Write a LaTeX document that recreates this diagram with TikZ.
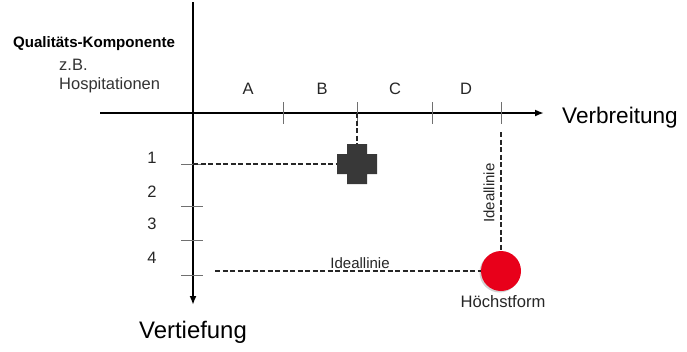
\documentclass[tikz,border=0pt]{standalone}
\usepackage{fontspec}
\setmainfont{Liberation Sans}
\usetikzlibrary{arrows.meta}
\definecolor{markgray}{HTML}{383838}
\definecolor{pointred}{HTML}{E8001A}
\definecolor{tickgray}{HTML}{707070}
\tikzset{
  axis/.style={line width=2.6pt,-{Latex[length=9pt,width=7pt]}},
  tickmark/.style={line width=1pt,tickgray},
  guide/.style={line width=2.2pt,dash pattern=on 5pt off 2.5pt,black!85},
  lbl/.style={inner sep=0pt,font=\fontsize{16.5}{18}\selectfont,text=black!85},
}
\begin{document}
\begin{tikzpicture}[x=1pt,y=-1pt]
\useasboundingbox (0,0) rectangle (687,351);

% axes
\coordinate (ytop) at (193,2);
\coordinate (ybot) at (193,305);
\coordinate (xleft) at (100,113);
\coordinate (xright) at (544,113);
\draw[axis] (ytop) -- (ybot);
\draw[axis] (xleft) -- (xright);

% ticks on the horizontal axis
\foreach \x/\n in {283/ta,357/tb,432/tc,501/td}{
  \coordinate (\n) at (\x,113);
  \draw[tickmark] (\x,102) -- (\x,124);
}
% ticks on the vertical axis
\foreach \y/\n in {164/t1,206/t2,240/t3,275/t4}{
  \coordinate (\n) at (193,\y);
  \draw[tickmark] (181,\y) -- (203,\y);
}

% column labels
\node[lbl] (la) at (248,89) {A};
\node[lbl] (lb) at (322,89) {B};
\node[lbl] (lc) at (395,89) {C};
\node[lbl] (ld) at (466,89) {D};
% row labels
\node[lbl] (l1) at (152,158) {1};
\node[lbl] (l2) at (152,192) {2};
\node[lbl] (l3) at (152,224) {3};
\node[lbl] (l4) at (152,258) {4};

% axis titles
\node[inner sep=0pt,anchor=west,font=\fontsize{22.6}{25}\selectfont] (verb) at (562,118) {Verbreitung};
\node[inner sep=0pt,font=\fontsize{23.9}{26}\selectfont] (vert) at (193,332) {Vertiefung};

% quality component caption
\node[inner sep=0pt,font=\bfseries\fontsize{15.1}{17}\selectfont] (qk) at (94,44) {Qualitäts-Komponente};
\node[lbl,anchor=west,text=black!80] (zb) at (59,65) {z.B.};
\node[lbl,anchor=west,text=black!80] (hosp) at (59,85) {Hospitationen};

% current position marker (cross)
\node[inner sep=0pt,minimum size=40pt] (cross) at (357,164) {};
\fill[markgray] (347,144) -- (367,144) -- (367,154) -- (377,154) -- (377,174) -- (367,174)
  -- (367,184) -- (347,184) -- (347,174) -- (337,174) -- (337,154) -- (347,154) -- cycle;
\draw[guide] (t1) -- (cross.west);
\draw[guide] (tb) -- (cross.north);

% target point
\fill[black!35,opacity=0.5] (499.5,272.5) circle (20);
\node[circle,fill=pointred,inner sep=0pt,minimum size=40pt] (best) at (501,271) {};
\node[inner sep=0pt,font=\fontsize{16.6}{18}\selectfont,text=black!85] (hf) at (503,302) {Höchstform};

% ideal lines
\coordinate (vstart) at (501,132);
\coordinate (hstart) at (215,271);
\draw[guide] (vstart) -- (best.north);
\draw[guide] (hstart) -- (best.west);
\node[inner sep=0pt,font=\fontsize{15}{17}\selectfont,text=black!85] (il1) at (360,263) {Ideallinie};
\node[inner sep=0pt,rotate=90,font=\fontsize{15}{17}\selectfont,text=black!85] (il2) at (489,193) {Ideallinie};
\end{tikzpicture}
\end{document}
